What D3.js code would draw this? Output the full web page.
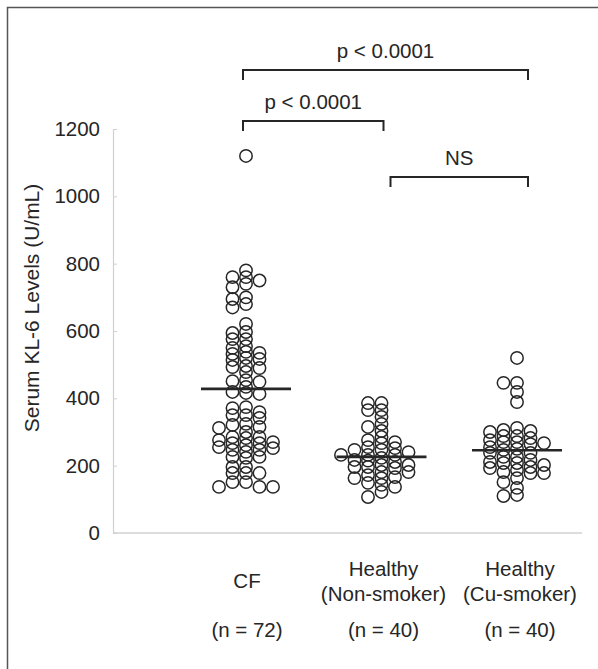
<!DOCTYPE html>
<html>
<head>
<meta charset="utf-8">
<script src="https://cdn.jsdelivr.net/npm/d3@7"></script>
<style>
  html, body { margin: 0; padding: 0; background: #fff; }
  svg { display: block; font-family: "Liberation Sans", Arial, Helvetica, sans-serif; }
</style>
</head>
<body>
<svg id="chart" width="598" height="669"></svg>
<script>
// groups on the x axis
const categories = ["CF", "Non", "Cu"]
const categoryLines = [["CF"], ["Healthy", "(Non-smoker)"], ["Healthy", "(Cu-smoker)"]]
const sampleSizes = ["(n = 72)", "(n = 40)", "(n = 40)"]

// serum KL-6 (U/mL)
const cfValues = [
  1120, 780, 760, 750, 760, 740, 730, 700, 680, 695, 670,
  621, 597, 576, 555, 538, 517, 496, 478, 449, 434, 413,
  576, 535, 490, 451, 416,
  594, 550, 532, 493, 454, 419,
  514, 520,
  359, 321, 300, 282, 261, 241, 223, 196, 178, 151, 137,
  371, 350, 312, 285, 267, 247, 226, 178, 151, 137,
  374, 350, 315, 285, 267, 247, 226, 196, 178, 137,
  324, 270, 252, 342, 276, 255
]
const nonSmokerValues = [
  386, 365, 345, 303, 270, 252, 232, 217, 196, 181, 163, 137, 107,
  365, 315, 276, 255, 232, 211, 193, 172, 143,
  386, 324, 285, 267, 247, 223, 202, 181, 163, 122,
  232, 196, 166, 247, 202, 149, 240, 215
]
const cuSmokerValues = [
  520, 446, 446, 419, 389,
  300, 282, 264, 247, 226, 211, 193, 178, 151, 134, 113,
  306, 276, 255, 238, 217, 196, 178,
  312, 288, 270, 250, 226, 208, 187, 163, 110,
  288, 267, 202, 181,
  303, 270, 238, 208
]
const groupValues = [cfValues, nonSmokerValues, cuSmokerValues]
const medians = [428, 226, 246]

const yTicks = [0, 200, 400, 600, 800, 1000, 1200]

// significance brackets: [from, to, label]
const comparisons = [
  ["CF", "Cu", "p < 0.0001"],
  ["CF", "Non", "p < 0.0001"],
  ["Non", "Cu", "NS"]
]

const svg = d3.select("#chart")
const ink = "#262626"

// outer frame (runs off the right and bottom of the picture)
svg.append("rect")
  .attr("x", 7.5).attr("y", 7.5)
  .attr("width", 700).attr("height", 700)
  .attr("fill", "none")
  .attr("stroke", "#555")
  .attr("stroke-width", 1.5)

const yScale = d3.scaleLinear().domain([0, 1200]).range([533, 129])
const xScale = d3.scalePoint().domain(categories).range([246, 517])

const axisLeftX = 113
const axisRightX = 582

// y axis
const yAxis = d3.axisLeft(yScale)
  .tickValues(yTicks)
  .tickFormat(d3.format("d"))
  .tickSizeInner(-4)
  .tickSizeOuter(0)
  .tickPadding(13)

const gy = svg.append("g")
  .attr("transform", "translate(" + axisLeftX + ",0)")
  .call(yAxis)
gy.select(".domain").attr("stroke", "#d0d0d0").attr("stroke-width", 1.2)
gy.selectAll(".tick line").attr("stroke", "#d0d0d0")
gy.selectAll(".tick text")
  .attr("fill", ink)
  .style("font-size", "20.5px")
  .style("font-family", "'Liberation Sans', Arial, sans-serif")

// x axis baseline
svg.append("line")
  .attr("x1", axisLeftX).attr("x2", axisRightX)
  .attr("y1", yScale(0)).attr("y2", yScale(0))
  .attr("stroke", "#d0d0d0")
  .attr("stroke-width", 1.5)

// y axis title
svg.append("text")
  .attr("transform", "translate(39,308) rotate(-90)")
  .attr("text-anchor", "middle")
  .attr("fill", ink)
  .style("font-size", "21px")
  .text("Serum KL-6 Levels (U/mL)")

// category labels
const labelOffsets = { CF: 1, Non: 2, Cu: 3 }
categories.forEach((c, i) => {
  const cx = xScale(c) + labelOffsets[c]
  const lines = categoryLines[i]
  const firstBase = lines.length === 1 ? 588 : 576
  lines.forEach((t, j) => {
    svg.append("text")
      .attr("x", cx)
      .attr("y", firstBase + j * 25)
      .attr("text-anchor", "middle")
      .attr("fill", ink)
      .style("font-size", "20.5px")
      .text(t)
  })
  svg.append("text")
    .attr("x", cx)
    .attr("y", 637)
    .attr("text-anchor", "middle")
    .attr("fill", ink)
    .style("font-size", "20.5px")
    .text(sampleSizes[i])
})

// simple beeswarm: each point goes into the nearest free column
const r = 6.2
const step = 13.5
const minGap = 5.6

function swarm(values) {
  const placed = []
  values.slice().sort((a, b) => b - a).forEach(v => {
    const py = yScale(v)
    const order = [0, -1, 1, -2, 2, -3, 3, -4, 4]
    for (const k of order) {
      const clash = placed.some(p => p.k === k && Math.abs(p.py - py) < minGap)
      if (!clash) {
        placed.push({ v, py, k })
        break
      }
    }
  })
  return placed
}

categories.forEach((c, i) => {
  const pts = swarm(groupValues[i])
  svg.append("g")
    .selectAll("circle")
    .data(pts)
    .enter()
    .append("circle")
    .attr("cx", d => xScale(c) + d.k * step)
    .attr("cy", d => d.py)
    .attr("r", r)
    .attr("fill", "none")
    .attr("stroke", ink)
    .attr("stroke-width", 1.5)

  // median bar
  svg.append("line")
    .attr("x1", xScale(c) - 45)
    .attr("x2", xScale(c) + 45)
    .attr("y1", yScale(medians[i]))
    .attr("y2", yScale(medians[i]))
    .attr("stroke", ink)
    .attr("stroke-width", 2.6)
})

// brackets
const bracketY = [70, 121, 177]
const legLen = 10
const endNudge = { CF: -3, Non: 2, Cu: 11 }
const startNudge = { CF: -3, Non: 9, Cu: 11 }

comparisons.forEach((cmp, i) => {
  const x1 = xScale(cmp[0]) + startNudge[cmp[0]]
  const x2 = xScale(cmp[1]) + endNudge[cmp[1]]
  const by = bracketY[i]
  svg.append("path")
    .attr("d", `M${x1},${by + legLen}V${by}H${x2}V${by + legLen}`)
    .attr("fill", "none")
    .attr("stroke", ink)
    .attr("stroke-width", 2)
  svg.append("text")
    .attr("x", (x1 + x2) / 2)
    .attr("y", by - 12)
    .attr("text-anchor", "middle")
    .attr("fill", ink)
    .style("font-size", "20.5px")
    .text(cmp[2])
})
</script>
</body>
</html>
